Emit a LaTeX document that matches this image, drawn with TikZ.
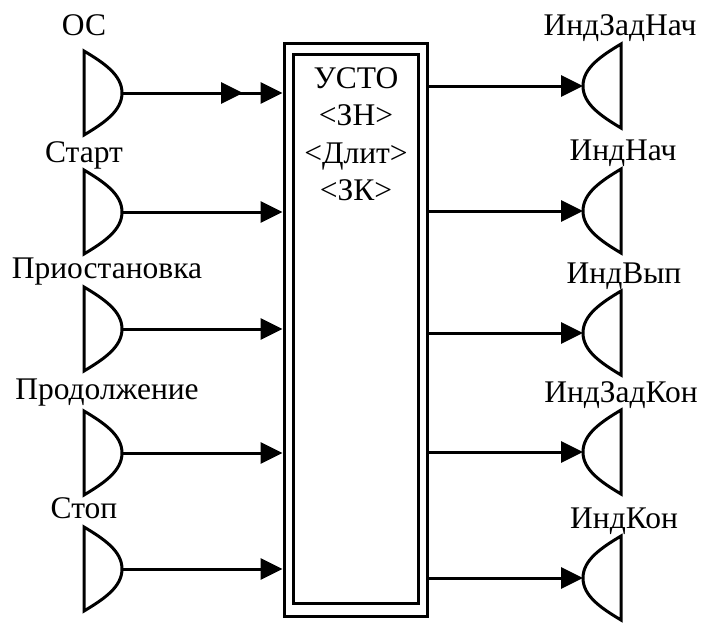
\documentclass[tikz,border=0pt]{standalone}
\usepackage{fontspec}
\setmainfont{Liberation Serif}
\usetikzlibrary{arrows.meta}
\begin{document}
\begin{tikzpicture}[x=1pt,y=-1pt,
  lw/.style={line width=3pt},
  arr/.style={lw,-{Triangle[length=22pt,width=21pt]}},
  lbl/.style={font=\fontsize{31.5}{33}\selectfont,inner sep=0pt,anchor=base},
  boxo/.style={draw,lw,minimum width=143pt,minimum height=573pt,inner sep=0pt},
  boxi/.style={draw,lw,minimum width=125pt,minimum height=549pt,inner sep=0pt},
  insrc/.pic={\draw[lw] (-38,-42) -- (-38,42) .. controls (-18,30) and (0,18) .. (0,0) .. controls (0,-18) and (-18,-30) .. (-38,-42) -- cycle;},
  outsnk/.pic={\draw[lw] (38,-42) -- (38,42) .. controls (18,30) and (0,18) .. (0,0) .. controls (0,-18) and (18,-30) .. (38,-42) -- cycle;}
]
\useasboundingbox (0,0) rectangle (702,622);
% central block
\node[boxo] (box) at (355.5,329.5) {};
\node[boxi] (boxin) at (355.5,328.5) {};
\node[lbl] (t1) at (356,88) {УСТО};
\node[lbl] (t2) at (356,125) {<ЗН>};
\node[lbl] (t3) at (356,163) {<Длит>};
\node[lbl] (t4) at (356,200) {<ЗК>};
% input sources
\foreach \n/\y in {oc/93,st/212,pr/329,pd/453,sp/569}{
  \pic at (122,\y) {insrc};
  \coordinate (\n) at (122,\y);
}
\node[lbl] (loc) at (84,35) {ОС};
\node[lbl] (lst) at (84,162) {Старт};
\node[lbl] (lpr) at (107,278) {Приостановка};
\node[lbl] (lpd) at (107,399) {Продолжение};
\node[lbl] (lsp) at (84,518) {Стоп};
% outputs
\foreach \n/\y in {o1/86,o2/211,o3/333,o4/452,o5/578}{
  \pic at (583,\y) {outsnk};
  \coordinate (\n) at (583,\y);
}
\node[lbl] (lo1) at (620,35) {ИндЗадНач};
\node[lbl] (lo2) at (623,160) {ИндНач};
\node[lbl] (lo3) at (624,283) {ИндВып};
\node[lbl] (lo4) at (621,402) {ИндЗадКон};
\node[lbl] (lo5) at (624,528) {ИндКон};
% input arrows
\coordinate (ocmid) at (243,93);
\draw[arr] (oc) -- (ocmid);
\foreach \n in {oc,st,pr,pd,sp}{
  \draw[arr] (\n) -- (box.west |- \n);
}
% output arrows
\foreach \n in {o1,o2,o3,o4,o5}{
  \draw[arr] (box.east |- \n) -- (\n);
}
\end{tikzpicture}
\end{document}
